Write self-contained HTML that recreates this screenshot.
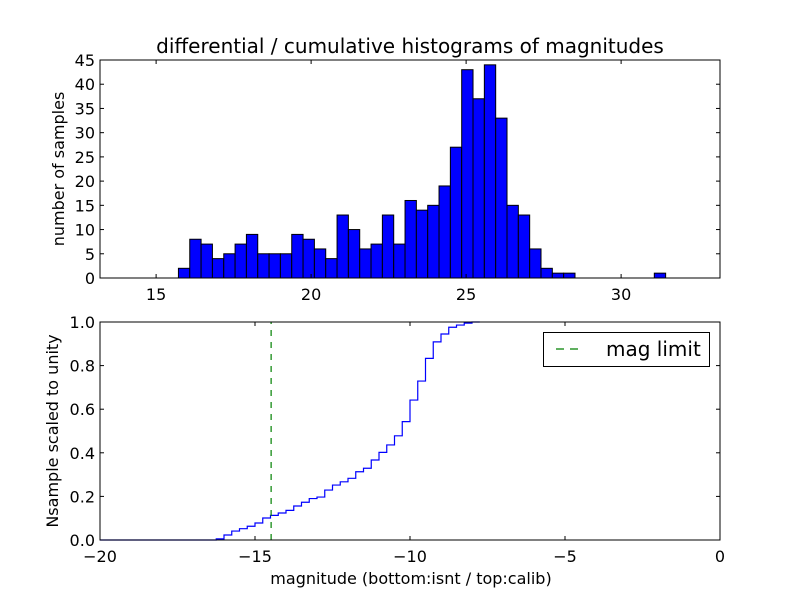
<!DOCTYPE html>
<html><head><meta charset="utf-8"><style>
body{margin:0;background:#fff}
svg{display:block;font-family:"DejaVu Sans","Liberation Sans",sans-serif}
</style></head><body>
<svg id="chart" width="800" height="600" viewBox="0 0 800 600"></svg>
<script>
// top histogram data
const binStart = 15.72;
const binWidth = 0.3655;
const counts = [2,8,7,4,5,7,9,5,5,5,9,8,6,4,13,10,6,7,13,7,16,14,15,19,27,43,37,44,33,15,13,6,2,1,1,0,0,0,0,0,0,0,1];
const topXTicks = [15,20,25,30];
const topYTicks = [0,5,10,15,20,25,30,35,40,45];
// bottom cumulative data
const cumStart = -16.25;
const cumStep = 0.25;
const cumValues = [0.005,0.023,0.041,0.052,0.063,0.078,0.101,0.113,0.124,0.136,0.156,0.173,0.19,0.197,0.229,0.252,0.267,0.283,0.313,0.329,0.367,0.402,0.436,0.478,0.543,0.642,0.729,0.833,0.909,0.945,0.976,0.986,0.995,1.0];
const magLimit = -14.48;
const botXTicks = [-20,-15,-10,-5,0];
const botYTicks = [0.0,0.2,0.4,0.6,0.8,1.0];

const NS='http://www.w3.org/2000/svg';
const svg=document.getElementById('chart');
function mk(tag,attrs,parent){const e=document.createElementNS(NS,tag);for(const k in attrs)e.setAttribute(k,attrs[k]);(parent||svg).appendChild(e);return e;}
const L=100,R=720;
const tx=v=>L+(v-13.19)/20*(R-L);
const ty=v=>278-v/45*218;
const bx=v=>L+(v+20)/20*(R-L);
const by=v=>540-v*218;
const FS=16;

const gTop=mk('g',{});


counts.forEach((c,i)=>{
  if(c<=0)return;
  const x0=tx(binStart+i*binWidth),x1=tx(binStart+(i+1)*binWidth);
  const r=mk('rect',{x:x0,y:ty(c),width:x1-x0,height:ty(0)-ty(c),fill:'#0000ff',stroke:'#000','stroke-width':1},gTop);
  
  
});
const f1=mk('rect',{x:L,y:60,width:R-L,height:218,fill:'none',stroke:'#000','stroke-width':1});


topXTicks.forEach(v=>{
  const x=tx(v);
  mk('line',{x1:x,x2:x,y1:278,y2:274,stroke:'#000'});
  mk('line',{x1:x,x2:x,y1:60,y2:64,stroke:'#000'});
  const t=mk('text',{x:x,y:300,'text-anchor':'middle','font-size':FS});t.textContent=v;
  
  
});
topYTicks.forEach(v=>{
  const y=ty(v);
  mk('line',{x1:L,x2:L+4,y1:y,y2:y,stroke:'#000'});
  mk('line',{x1:R,x2:R-4,y1:y,y2:y,stroke:'#000'});
  const t=mk('text',{x:L-5,y:y+6,'text-anchor':'end','font-size':FS});t.textContent=v;
  
  
});
let t=mk('text',{x:410,y:53,'text-anchor':'middle','font-size':20});t.textContent='differential / cumulative histograms of magnitudes';


t=mk('text',{x:0,y:0,'text-anchor':'middle','font-size':FS,transform:'translate(64,169) rotate(-90)'});t.textContent='number of samples';



let d='M'+bx(-20)+','+by(0)+' L'+bx(cumStart)+','+by(0);
cumValues.forEach((v,i)=>{
  const x0=bx(cumStart+i*cumStep),x1=bx(cumStart+(i+1)*cumStep);
  d+=' L'+x0+','+by(v)+' L'+x1+','+by(v);
});
const line=mk('path',{d:d,fill:'none',stroke:'#0000ff','stroke-width':1.2});


const ml=mk('line',{x1:bx(magLimit),x2:bx(magLimit),y1:by(0),y2:by(1),stroke:'#008000','stroke-width':1.2,'stroke-dasharray':'6,6'});


const f2=mk('rect',{x:L,y:322,width:R-L,height:218,fill:'none',stroke:'#000','stroke-width':1});


botXTicks.forEach(v=>{
  const x=bx(v);
  mk('line',{x1:x,x2:x,y1:540,y2:536,stroke:'#000'});
  mk('line',{x1:x,x2:x,y1:322,y2:326,stroke:'#000'});
  const t=mk('text',{x:x,y:562,'text-anchor':'middle','font-size':FS});t.textContent=v===0?'0':'\u2212'+Math.abs(v);
  
  
});
botYTicks.forEach(v=>{
  const y=by(v);
  mk('line',{x1:L,x2:L+4,y1:y,y2:y,stroke:'#000'});
  mk('line',{x1:R,x2:R-4,y1:y,y2:y,stroke:'#000'});
  const t=mk('text',{x:L-5,y:y+6,'text-anchor':'end','font-size':FS});t.textContent=v.toFixed(1);
  
  
});
t=mk('text',{x:411,y:584,'text-anchor':'middle','font-size':FS});t.textContent='magnitude (bottom:isnt / top:calib)';


t=mk('text',{x:0,y:0,'text-anchor':'middle','font-size':FS,transform:'translate(58,431) rotate(-90)'});t.textContent='Nsample scaled to unity';



const lg=mk('g',{});


mk('rect',{x:543.5,y:332.5,width:166,height:34,fill:'#fff',stroke:'#000'},lg);
mk('line',{x1:556,x2:584,y1:349,y2:349,stroke:'#008000','stroke-width':1.2,'stroke-dasharray':'8,6'},lg);
t=mk('text',{x:606,y:356,'font-size':20},lg);t.textContent='mag limit';


</script>
</body></html>
